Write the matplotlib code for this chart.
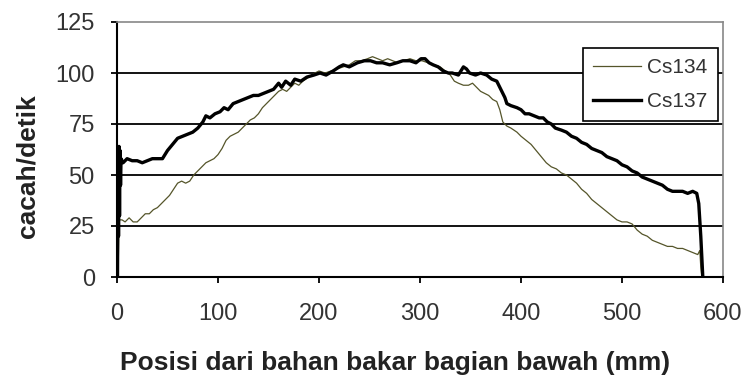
import matplotlib
matplotlib.use("Agg")
import matplotlib.pyplot as plt

cs137_x = [0.5, 1, 1.5, 2, 2.5, 3, 3.5, 4, 6, 10, 15, 20, 25, 30, 35, 40, 45, 50, 55, 60, 65, 70, 75, 80, 85, 88, 92, 97,
           102, 106, 110, 115, 120, 125, 130, 135, 140, 145, 150, 155, 160, 163, 167, 172, 176, 182, 188, 195, 201,
           207, 214, 220, 224, 230, 238, 245, 251, 257, 263, 270, 277, 283, 290, 296, 301, 305, 309, 313, 318, 323,
           328, 332, 338, 343, 346, 349, 355, 360, 366, 371, 376, 380, 384, 386, 390, 396, 400, 404, 408, 413, 418,
           422, 426, 430, 434, 440, 445, 450, 455, 460, 465, 470, 475, 480, 485, 490, 495, 500, 505, 510, 515, 520,
           525, 530, 535, 540, 545, 550, 555, 560, 565, 570, 574, 576, 577, 578, 579, 580]
cs137_y = [0, 63, 20, 64, 30, 62, 45, 58, 56, 58, 57, 57, 56, 57, 58, 58, 58, 62, 65, 68, 69, 70, 71, 73, 76, 79, 78, 80,
           81, 83, 82, 85, 86, 87, 88, 89, 89, 90, 91, 92, 95, 93, 96, 94, 97, 96, 98, 99, 100,
           99, 101, 103, 104, 103, 105, 106, 106, 105, 105, 104, 105, 106, 106, 105, 107, 107, 105, 104, 103, 101,
           100, 100, 99, 103, 102, 100, 99, 100, 99, 97, 96, 92, 88, 85, 84, 83, 82, 80, 80, 79, 78,
           78, 76, 75, 73, 72, 71, 69, 68, 66, 65, 63, 62, 61, 59, 58, 57, 55, 54, 52, 51, 49,
           48, 47, 46, 45, 43, 42, 42, 42, 41, 42, 41, 36, 28, 20, 10, 0]

cs134_x = [1, 2, 5, 8, 12, 16, 20, 24, 28, 32, 36, 40, 44, 48, 52, 56, 60, 64, 68, 72, 76, 80, 84, 88, 92, 96, 100,
           104, 108, 112, 116, 120, 124, 128, 132, 136, 140, 144, 148, 152, 156, 160, 164, 168, 172, 176, 180, 184,
           190, 196, 200, 206, 212, 218, 224, 230, 236, 242, 248, 253, 258, 263, 268, 273, 278, 284, 290, 296, 302,
           308, 314, 320, 325, 330, 334, 338, 343, 348, 352, 356, 360, 364, 368, 372, 376, 379, 382, 386, 390, 396,
           400, 405, 410, 415, 420, 425, 430, 435, 440, 445, 450, 455, 460, 465, 470, 475, 480, 485, 490, 495, 500,
           505, 510, 515, 520, 525, 530, 535, 540, 545, 550, 555, 560, 565, 570, 575, 577, 578, 579]
cs134_y = [0, 28, 28, 27, 29, 27, 27, 29, 31, 31, 33, 34, 36, 38, 40, 43, 46, 47, 46, 47, 50, 52, 54, 56, 57, 58, 60,
           63, 67, 69, 70, 71, 73, 75, 77, 78, 80, 83, 85, 87, 89, 91, 92, 91, 93, 95, 94, 96,
           98, 100, 101, 100, 101, 102, 103, 104, 106, 106, 107, 108, 107, 106, 107, 106, 105, 106, 107, 106, 106,
           105, 104, 103, 101, 99, 96, 95, 94, 94, 95, 93, 91, 90, 89, 87, 86, 82, 76, 74, 73, 71,
           69, 67, 65, 62, 59, 56, 54, 53, 51, 50, 48, 46, 43, 41, 38, 36, 34, 32, 30, 28, 27,
           27, 26, 23, 21, 20, 18, 17, 16, 15, 15, 14, 14, 13, 12, 11, 13, 5, 0]

x_ticks = [0, 100, 200, 300, 400, 500, 600]
y_ticks = [0, 25, 50, 75, 100, 125]
series_names = ["Cs134", "Cs137"]
x_label = "Posisi dari bahan bakar bagian bawah (mm)"
y_label = "cacah/detik"

plt.rcParams['font.family'] = ['Liberation Sans', 'DejaVu Sans']

fig = plt.figure(figsize=(7.47, 3.85), dpi=100)
ax = fig.add_axes([117 / 747, 1 - 277 / 385, 606 / 747, 255 / 385])

for yv in y_ticks[1:-1]:
    ax.axhline(yv, color='black', lw=1.3, zorder=1)

ax.plot(cs134_x, cs134_y, color='#55552a', lw=0.9, label=series_names[0], zorder=2)
ax.plot(cs137_x, cs137_y, color='black', lw=2.4, label=series_names[1], zorder=3)

ax.set_xlim(0, 600)
ax.set_ylim(0, 125)
ax.set_xticks(x_ticks)
ax.set_yticks(y_ticks)
ax.tick_params(axis='both', direction='out', length=4, width=1.3, labelsize=17, colors='black')
ax.tick_params(axis='y', labelcolor='#333333', pad=12)
ax.tick_params(axis='x', labelcolor='#333333', pad=15)

for s in ['left', 'bottom']:
    ax.spines[s].set_color('black')
    ax.spines[s].set_linewidth(1.5)
for s in ['top', 'right']:
    ax.spines[s].set_color('#888888')
    ax.spines[s].set_linewidth(1.2)

fig.text(395 / 747, 1 - 370 / 385, x_label, fontsize=19, fontweight='bold', color='#222222',
         ha='center', va='baseline')
fig.text(28 / 747, 1 - 166 / 385, y_label, fontsize=19, fontweight='bold', color='#222222',
         ha='center', va='center', rotation=90)

leg = ax.legend(loc='upper right', bbox_to_anchor=(0.992, 0.898), fontsize=15, frameon=True,
                fancybox=False, edgecolor='black', framealpha=1, handlelength=2.3, labelspacing=0.7,
                borderpad=0.5, handletextpad=0.3, borderaxespad=0)
leg.get_frame().set_linewidth(1.2)
for t in leg.get_texts():
    t.set_color('#333333')

fig.savefig('out.png', dpi=100)
